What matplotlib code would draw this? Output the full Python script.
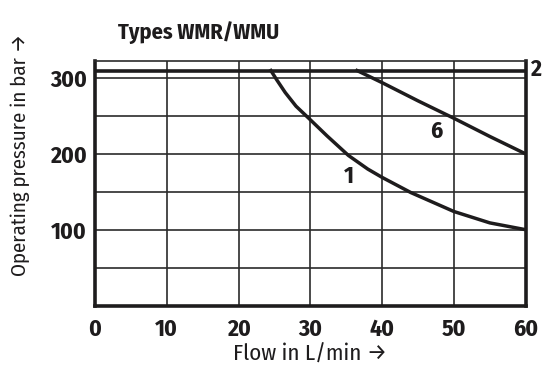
import matplotlib
matplotlib.use("Agg")
import matplotlib.pyplot as plt
from matplotlib import font_manager

# curve values
flow_1 = [24.5, 25.3, 26.5, 28, 30, 32.3, 35.3, 38, 40, 44, 50, 55, 60]
pres_1 = [310, 298, 281, 263, 245, 224, 198, 180, 169, 149, 124, 109, 100]
flow_6 = [36.5, 40, 45, 50, 55, 60]
pres_6 = [310, 294, 270, 247, 223, 200]
flow_2 = [0, 60]
pres_2 = [310, 310]

x_ticks = [0, 10, 20, 30, 40, 50, 60]
y_ticks = [100, 200, 300]

# condensed humanist face if there is one, plain sans otherwise
names = {f.name for f in font_manager.fontManager.ttflist}
wanted = ["Fira Sans Condensed", "Open Sans Condensed", "PT Sans Narrow",
          "Roboto Condensed", "Liberation Sans Narrow", "Liberation Sans"]
family = next((n for n in wanted if n in names), "DejaVu Sans")
plt.rcParams["font.family"] = [family, "DejaVu Sans"]

ink = "#1e1c1d"
grid_ink = "#2b2b2b"
fig = plt.figure(figsize=(5.44, 3.76), dpi=100)
ax = fig.add_axes([0.1746, 0.1875, 0.7918, 0.6511])

ax.set_xlim(0, 60)
ax.set_ylim(0, 323)

for gx in range(10, 60, 10):
    ax.axvline(gx, color=grid_ink, lw=1.2, zorder=1)
for gy in range(50, 301, 50):
    ax.axhline(gy, color=grid_ink, lw=1.2, zorder=1)

ax.plot(flow_2, pres_2, color=ink, lw=2.6, solid_capstyle="butt", zorder=3)
ax.plot(flow_1, pres_1, color=ink, lw=2.5, solid_joinstyle="round", zorder=3)
ax.plot(flow_6, pres_6, color=ink, lw=2.5, solid_joinstyle="round", zorder=3)

ax.text(35.3, 170, "1", fontsize=17, fontweight="bold", color=ink, ha="center", va="center")
ax.text(47.5, 230, "6", fontsize=17, fontweight="bold", color=ink, ha="center", va="center")
ax.text(60.6, 311, "2", fontsize=17, fontweight="bold", color=ink, ha="left", va="center",
        clip_on=False)

for side in ["left", "bottom", "right"]:
    ax.spines[side].set_linewidth(2.6)
    ax.spines[side].set_color(ink)
ax.spines["top"].set_linewidth(1.2)
ax.spines["top"].set_color(grid_ink)

ax.set_xticks(x_ticks)
ax.set_yticks(y_ticks)
ax.tick_params(axis="x", length=0, labelsize=17, colors=ink, pad=9)
ax.tick_params(axis="y", length=0, labelsize=17, colors=ink, pad=6)
for lab in ax.get_xticklabels() + ax.get_yticklabels():
    lab.set_fontweight("bold")

ax.set_xlabel("Flow in L/min \u2192", fontsize=16.5, color=ink)
ax.xaxis.set_label_coords(0.5, -0.158)
ax.set_ylabel("Operating pressure in bar \u2192", fontsize=15, color=ink)
ax.yaxis.set_label_coords(-0.152, 0.615)

fig.text(118 / 544, 1 - 39 / 376, "Types WMR/WMU", fontsize=16, fontweight="bold",
         color=ink, ha="left", va="baseline")

fig.savefig("out.png", dpi=100)
